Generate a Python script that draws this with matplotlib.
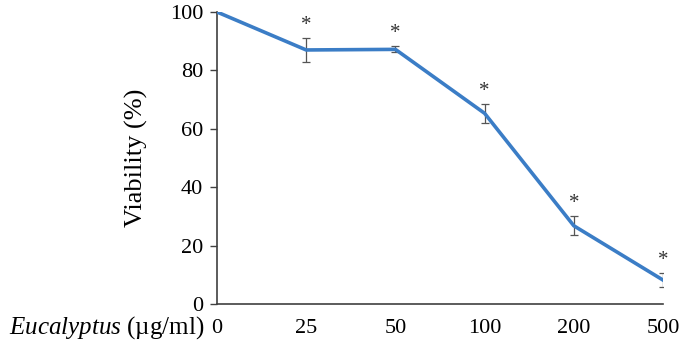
import matplotlib.pyplot as plt
import numpy as np

plt.rcParams['font.family'] = ['Liberation Serif', 'DejaVu Serif']
plt.rcParams['mathtext.fontset'] = 'custom'
plt.rcParams['mathtext.rm'] = 'Liberation Serif'
plt.rcParams['mathtext.it'] = 'Liberation Serif:italic'

doses = ['0', '25', '50', '100', '200', '500']
viability = [100, 87.0, 87.2, 65.3, 26.8, 8.2]
errors = [0, 4.1, 1.0, 3.3, 3.3, 2.5]
signif = [False, True, True, True, True, True]

x = np.arange(len(doses))

fig = plt.figure(figsize=(6.82, 3.48), dpi=100)
ax = fig.add_axes([217 / 682, 1 - 304 / 348, (663 - 217) / 682, (304 - 12) / 348])

ax.plot(x, viability, color='#3b7dc6', lw=2.6, zorder=3)
ax.errorbar(x[1:], viability[1:], yerr=errors[1:], fmt='none', ecolor='#555555',
            elinewidth=0.9, capsize=3, capthick=0.9, zorder=2)

# significance marks above the error bars
for xi, v, e, s in zip(x, viability, errors, signif):
    if s:
        ax.text(xi, v + e + 4.3, '*', ha='center', va='center', fontsize=15, color='#333333')

ax.set_xlim(0, 5)
ax.set_ylim(0, 100)
ax.set_yticks([0, 20, 40, 60, 80, 100])
ax.set_xticks(x)
ax.set_xticklabels(doses)
ax.tick_params(axis='x', length=0, pad=11, labelsize=16)
ax.tick_params(axis='y', length=5, width=1, direction='out', pad=5, labelsize=16, color='#404040')

for side in ['top', 'right']:
    ax.spines[side].set_visible(False)
for side in ['left', 'bottom']:
    ax.spines[side].set_color('#404040')
    ax.spines[side].set_linewidth(1.2)

fig.text(136 / 682, 1 - 158 / 348, 'Viability (%)', rotation=90, ha='center', va='center', fontsize=19)
fig.text(204 / 682, 1 - 328 / 348, r'$\mathit{Eucalyptus}$ (µg/ml)', ha='right', va='center', fontsize=18)

plt.savefig('out.png', dpi=100)
